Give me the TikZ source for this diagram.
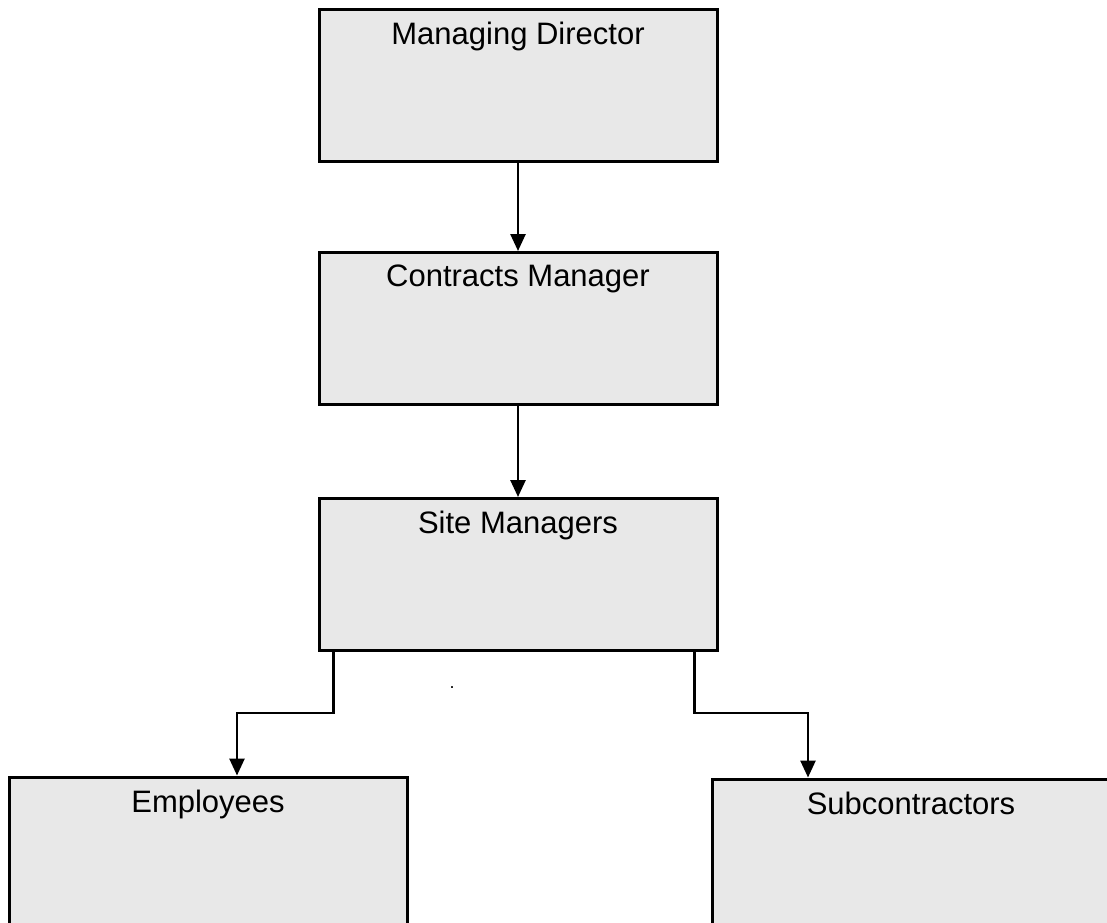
\documentclass[tikz,border=0pt]{standalone}
\usepackage{fontspec}
\setmainfont{Liberation Sans}
\usetikzlibrary{positioning,arrows.meta}
\definecolor{boxgray}{RGB}{232,232,232}

\begin{document}
\begin{tikzpicture}[x=0.5pt,y=-0.5pt,
		post/.style={draw=black,line width=1.5pt,fill=boxgray,minimum width=199pt,minimum height=76pt,inner sep=0pt},
		title/.style={font=\fontsize{15.5}{18}\selectfont},
		conn/.style={line width=1.3pt,-{Triangle[length=8.5pt,width=7.5pt]}}]
		\useasboundingbox (0,0) rectangle (1107,922);
		\clip (0,0) rectangle (1107,922);
		\fill[white] (0,0) rectangle (1107,922);
		
		\node[post] (md) at (518,85.5) {};
		\node[post,below=44pt of md] (cm) {};
		\node[post,below=45.5pt of cm] (sm) {};
		\node[post] (emp) at (208,853) {};
		\node[post,minimum width=205pt] (sub) at (917,855) {};
		
		\node[title,below=3.5pt of md.north] (mdtext) {Managing Director};
		\node[title,below=3.5pt of cm.north] (cmtext) {Contracts Manager};
		\node[title,below=3.5pt of sm.north] (smtext) {Site Managers};
		\node[title,below=3.5pt of emp.north] (emptext) {Employees};
		\node[title,below=3.5pt of {[xshift=-3pt]sub.north}] (subtext) {Subcontractors};
		\node[inner sep=0pt,font=\small] (dot) at (452,688) {.};
		
		\coordinate (ej) at (237,713);
		\coordinate (sj) at (808,713);
		
		\draw[conn] (md) -- (cm);
		\draw[conn] (cm) -- (sm);
		\draw[conn] ([xshift=8pt]sm.south west) |- (ej) -- (ej |- emp.north);
		\draw[conn] ([xshift=-12pt]sm.south east) |- (sj) -- (sj |- sub.north);
	\end{tikzpicture}
\end{document}
